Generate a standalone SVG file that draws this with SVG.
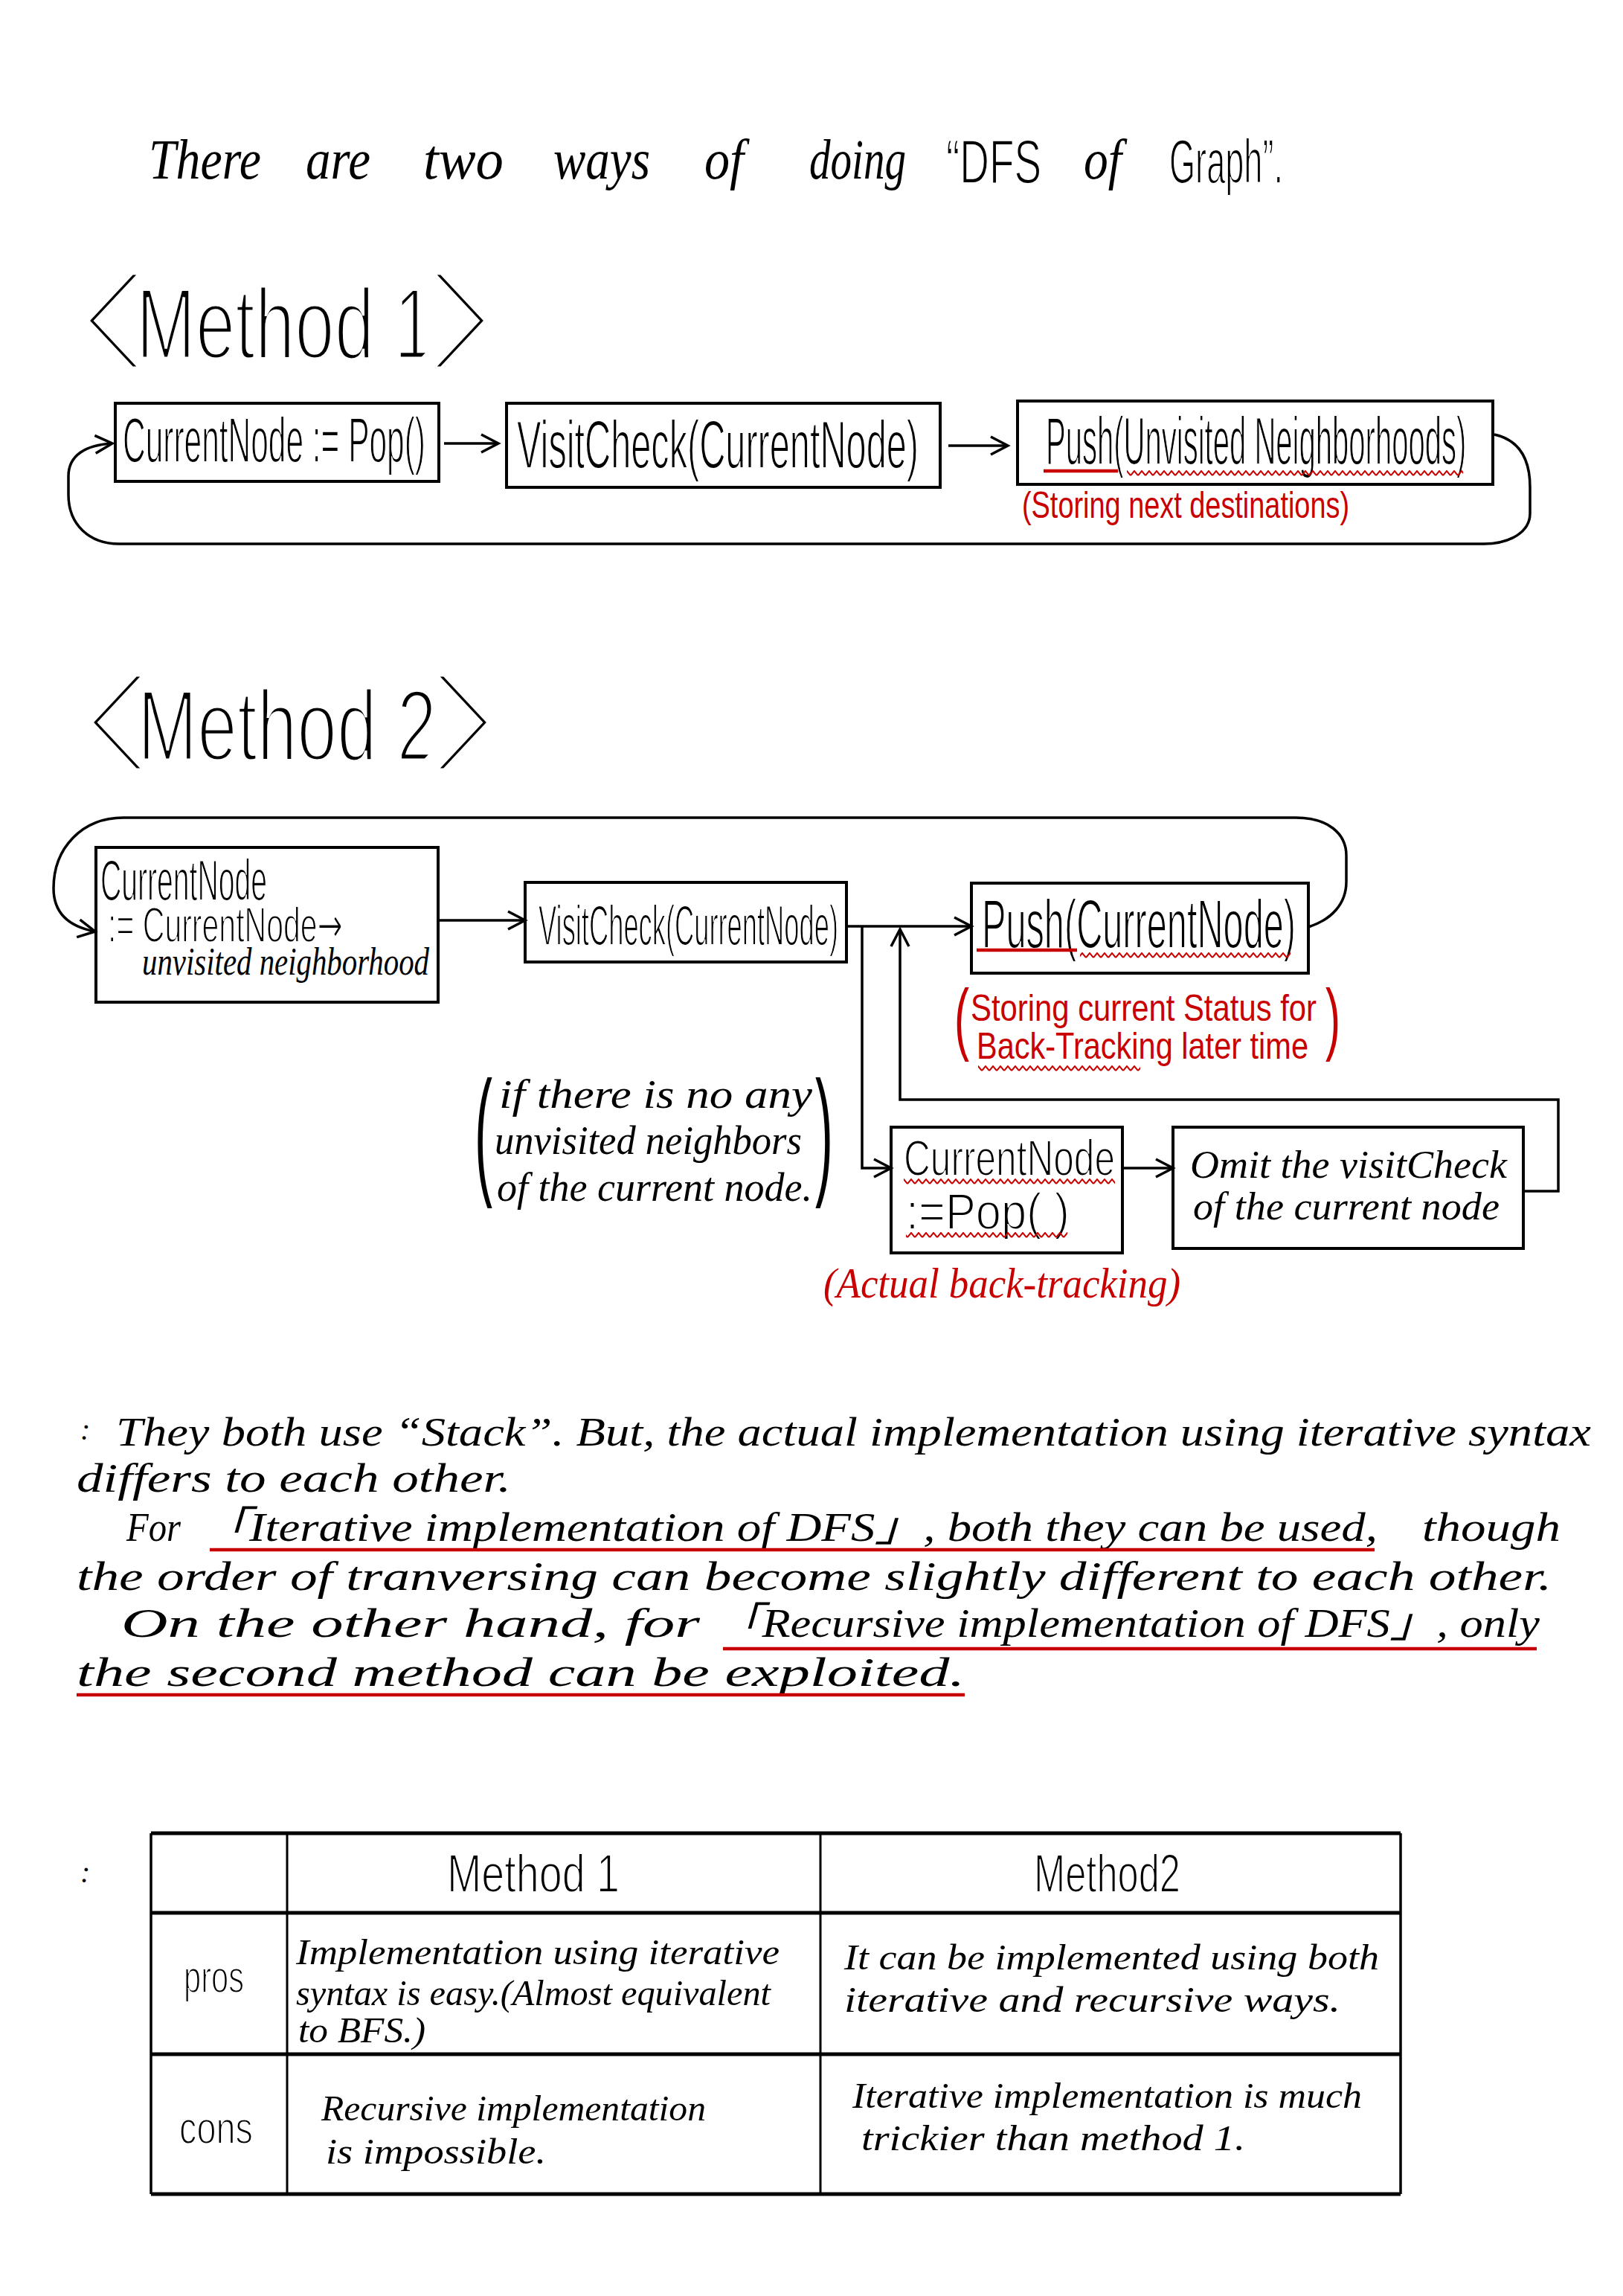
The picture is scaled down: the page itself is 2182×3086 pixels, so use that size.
<svg xmlns="http://www.w3.org/2000/svg" width="2182" height="3086" viewBox="0 0 2182 3086">
<style>
.bg{fill:#fff}
.box{fill:none;stroke:#000;stroke-width:4}
.conn{fill:none;stroke:#000;stroke-width:3.5}
.p{font-family:"Liberation Sans",Arial,sans-serif;fill:#000}
.c{font-family:"Liberation Serif","Times New Roman","Noto Sans CJK JP",serif;font-style:italic;fill:#000}
.br{font-family:"DejaVu Sans",sans-serif;fill:#000;stroke:#fff;stroke-width:10.5}
.thin{stroke:#fff;stroke-width:5}
.thins{stroke:#fff;stroke-width:2}
.red{fill:#c80000}
.ul{stroke:#c80000;stroke-width:4.5;fill:none}
.tl{stroke:#000;fill:none}
</style>
<defs>
<marker id="ah" markerUnits="userSpaceOnUse" markerWidth="30" markerHeight="28" refX="26" refY="14" orient="auto">
<path d="M3,2 L26,14 L3,26" fill="none" stroke="#000" stroke-width="3.5"/>
</marker>
<pattern id="wave" patternUnits="userSpaceOnUse" width="10" height="8">
<path d="M0,7 L5,1 L10,7" fill="none" stroke="#c80000" stroke-width="2"/>
</pattern>
</defs>
<rect class="bg" x="0" y="0" width="2182" height="3086"/>

<g id="title">
<text class="c" x="200" y="240" font-size="76" textLength="151" lengthAdjust="spacingAndGlyphs">There</text>
<text class="c" x="411" y="240" font-size="76" textLength="87" lengthAdjust="spacingAndGlyphs">are</text>
<text class="c" x="569" y="240" font-size="76" textLength="108" lengthAdjust="spacingAndGlyphs">two</text>
<text class="c" x="744" y="240" font-size="76" textLength="130" lengthAdjust="spacingAndGlyphs">ways</text>
<text class="c" x="947" y="240" font-size="76" textLength="53" lengthAdjust="spacingAndGlyphs">of</text>
<text class="c" x="1088" y="240" font-size="76" textLength="130" lengthAdjust="spacingAndGlyphs">doing</text>
<text class="p thins" x="1272" y="246" font-size="84" textLength="128" lengthAdjust="spacingAndGlyphs">“DFS</text>
<text class="c" x="1457" y="240" font-size="76" textLength="51" lengthAdjust="spacingAndGlyphs">of</text>
<text class="p thins" x="1572" y="246" font-size="84" textLength="153" lengthAdjust="spacingAndGlyphs">Graph”.</text>
</g>

<g id="heading-method1">
<text y="478"><tspan class="br" x="64" y="478" font-size="150" textLength="177" lengthAdjust="spacingAndGlyphs">⟨</tspan><tspan class="p thin" x="183" y="482" font-size="136" textLength="400" lengthAdjust="spacingAndGlyphs">Method 1</tspan><tspan class="br" x="530" y="478" font-size="150" textLength="177" lengthAdjust="spacingAndGlyphs">⟩</tspan></text>
</g>

<g id="m1-pop">
<rect class="box" x="155" y="542" width="435" height="105"/>
<text class="p thins" x="165" y="621" font-size="85" textLength="407" lengthAdjust="spacingAndGlyphs">CurrentNode := Pop()</text>
</g>
<g id="m1-visit">
<rect class="box" x="681" y="542" width="583" height="113"/>
<text class="p thins" x="695" y="629" font-size="90" textLength="540" lengthAdjust="spacingAndGlyphs">VisitCheck(CurrentNode)</text>
</g>
<g id="m1-push">
<rect class="box" x="1368" y="539" width="639" height="112"/>
<text class="p thins" transform="translate(1406,624) scale(0.445,1)" x="0" y="0" font-size="90">Push(Unvisited Neighborhoods)</text>
<line class="ul" x1="1403" y1="633" x2="1503" y2="633"/>
<rect x="1515" y="632" width="452" height="8" fill="url(#wave)"/>
<text class="p red" x="1374" y="696" font-size="50" textLength="440" lengthAdjust="spacingAndGlyphs">(Storing next destinations)</text>
</g>

<g id="connectors-m1">
<path class="conn" d="M597,596 L670,596" marker-end="url(#ah)"/>
<path class="conn" d="M1275,599 L1355,599" marker-end="url(#ah)"/>
<path class="conn" d="M2009,584 C2045,592 2057,620 2057,655 L2057,690 C2057,715 2030,731 1995,731 L160,731 C120,731 92,705 92,665 L92,640 C92,612 115,598 151,596" marker-end="url(#ah)"/>
</g>

<g id="heading-method2">
<text y="1018"><tspan class="br" x="69" y="1018" font-size="150" textLength="177" lengthAdjust="spacingAndGlyphs">⟨</tspan><tspan class="p thin" x="185" y="1022" font-size="136" textLength="402" lengthAdjust="spacingAndGlyphs">Method 2</tspan><tspan class="br" x="534" y="1018" font-size="150" textLength="177" lengthAdjust="spacingAndGlyphs">⟩</tspan></text>
</g>

<g id="m2-update">
<rect class="box" x="129" y="1139" width="460" height="208"/>
<text class="p thins" x="135" y="1210" font-size="78" textLength="224" lengthAdjust="spacingAndGlyphs">CurrentNode</text>
<text class="p thins" x="145" y="1266" font-size="66" textLength="316" lengthAdjust="spacingAndGlyphs">:= CurrentNode<tspan font-family="DejaVu Sans">→</tspan></text>
<text class="c" x="191" y="1310" font-size="52" textLength="386" lengthAdjust="spacingAndGlyphs">unvisited neighborhood</text>
</g>
<g id="m2-visit">
<rect class="box" x="706" y="1186" width="432" height="107"/>
<text class="p thins" x="724" y="1270" font-size="76" textLength="403" lengthAdjust="spacingAndGlyphs">VisitCheck(CurrentNode)</text>
</g>
<g id="m2-push">
<rect class="box" x="1306" y="1187" width="453" height="121"/>
<text class="p thins" x="1320" y="1274" font-size="92" textLength="422" lengthAdjust="spacingAndGlyphs">Push(CurrentNode)</text>
<line class="ul" x1="1313" y1="1277" x2="1448" y2="1277"/>
<rect x="1452" y="1280" width="283" height="8" fill="url(#wave)"/>
</g>
<g id="m2-push-note">
<text class="p red" x="1283" y="1405" font-size="107" textLength="20" lengthAdjust="spacingAndGlyphs">(</text>
<text class="p red" x="1305" y="1372" font-size="50" textLength="465" lengthAdjust="spacingAndGlyphs">Storing current Status for</text>
<text class="p red" x="1313" y="1423" font-size="50" textLength="446" lengthAdjust="spacingAndGlyphs">Back-Tracking later time</text>
<rect x="1315" y="1432" width="218" height="8" fill="url(#wave)"/>
<text class="p red" x="1782" y="1405" font-size="107" textLength="20" lengthAdjust="spacingAndGlyphs">)</text>
</g>
<g id="m2-condition">
<text class="p" x="638" y="1585" font-size="190" textLength="24" lengthAdjust="spacingAndGlyphs">(</text>
<text class="c" x="671" y="1489" font-size="54" textLength="421" lengthAdjust="spacingAndGlyphs">if there is no any</text>
<text class="c" x="665" y="1551" font-size="54" textLength="413" lengthAdjust="spacingAndGlyphs">unvisited neighbors</text>
<text class="c" x="668" y="1614" font-size="54" textLength="424" lengthAdjust="spacingAndGlyphs">of the current node.</text>
<text class="p" x="1096" y="1585" font-size="190" textLength="24" lengthAdjust="spacingAndGlyphs">)</text>
</g>
<g id="m2-pop">
<rect class="box" x="1198" y="1515" width="311" height="169"/>
<text class="p thins" x="1215" y="1580" font-size="68" textLength="284" lengthAdjust="spacingAndGlyphs">CurrentNode</text>
<rect x="1215" y="1584" width="284" height="8" fill="url(#wave)"/>
<text class="p thins" x="1218" y="1652" font-size="68" textLength="220" lengthAdjust="spacingAndGlyphs">:=Pop( )</text>
<rect x="1218" y="1656" width="217" height="8" fill="url(#wave)"/>
<text class="c red" x="1107" y="1744" font-size="56" textLength="480" lengthAdjust="spacingAndGlyphs">(Actual back-tracking)</text>
</g>
<g id="m2-omit">
<rect class="box" x="1577" y="1515" width="471" height="163"/>
<text class="c" x="1600" y="1583" font-size="52" textLength="426" lengthAdjust="spacingAndGlyphs">Omit the visitCheck</text>
<text class="c" x="1604" y="1639" font-size="52" textLength="412" lengthAdjust="spacingAndGlyphs">of the current node</text>
</g>

<g id="connectors-m2">
<path class="conn" d="M1759,1246 C1790,1236 1810,1215 1810,1185 L1810,1150 C1810,1120 1785,1099 1742,1099 L166,1099 C110,1099 72,1140 72,1194 C72,1225 90,1245 128,1252" marker-end="url(#ah)"/>
<path class="conn" d="M589,1237 L706,1237" marker-end="url(#ah)"/>
<path class="conn" d="M1139,1245 L1306,1245" marker-end="url(#ah)"/>
<path class="conn" d="M1159,1245 L1159,1570 L1198,1570" marker-end="url(#ah)"/>
<path class="conn" d="M2048,1601 L2095,1601 L2095,1478 L1210,1478 L1210,1249" marker-end="url(#ah)"/>
<path class="conn" d="M1509,1570 L1577,1570" marker-end="url(#ah)"/>
</g>

<g id="paragraph">
<text class="c" x="108" y="1935" font-size="40">:</text>
<text class="c" x="156" y="1943" font-size="55" textLength="1983" lengthAdjust="spacingAndGlyphs">They both use “Stack”. But, the actual implementation using iterative syntax</text>
<text class="c" x="103" y="2005" font-size="55" textLength="584" lengthAdjust="spacingAndGlyphs">differs to each other.</text>
<text class="c" x="170" y="2071" font-size="55" textLength="73" lengthAdjust="spacingAndGlyphs">For</text>
<text class="c" x="270" y="2071" font-size="55" textLength="1582" lengthAdjust="spacingAndGlyphs">「Iterative implementation of DFS」, both they can be used,</text>
<text class="c" x="1912" y="2071" font-size="55" textLength="186" lengthAdjust="spacingAndGlyphs">though</text>
<line class="ul" x1="282" y1="2083" x2="1848" y2="2083"/>
<text class="c" x="103" y="2137" font-size="55" textLength="1983" lengthAdjust="spacingAndGlyphs">the order of tranversing can become slightly different to each other.</text>
<text class="c" x="163" y="2200" font-size="55" textLength="778" lengthAdjust="spacingAndGlyphs">On the other hand, for</text>
<text class="c" x="962" y="2200" font-size="55" textLength="1108" lengthAdjust="spacingAndGlyphs">「Recursive implementation of DFS」, only</text>
<line class="ul" x1="972" y1="2216" x2="2066" y2="2216"/>
<text class="c" x="103" y="2266" font-size="55" textLength="1194" lengthAdjust="spacingAndGlyphs">the second method can be exploited.</text>
<line class="ul" x1="103" y1="2278" x2="1297" y2="2278"/>
</g>

<g id="table">
<text class="c" x="108" y="2530" font-size="40">:</text>
<line class="tl" x1="203" y1="2464" x2="1883" y2="2464" stroke-width="5"/>
<line class="tl" x1="203" y1="2571" x2="1883" y2="2571" stroke-width="5"/>
<line class="tl" x1="203" y1="2761" x2="1883" y2="2761" stroke-width="5"/>
<line class="tl" x1="203" y1="2949" x2="1883" y2="2949" stroke-width="5"/>
<line class="tl" x1="203" y1="2464" x2="203" y2="2949" stroke-width="3.5"/>
<line class="tl" x1="386" y1="2464" x2="386" y2="2949" stroke-width="3"/>
<line class="tl" x1="1103" y1="2464" x2="1103" y2="2949" stroke-width="3"/>
<line class="tl" x1="1883" y1="2464" x2="1883" y2="2949" stroke-width="3.5"/>
<text class="p thins" x="601" y="2543" font-size="72" textLength="232" lengthAdjust="spacingAndGlyphs">Method 1</text>
<text class="p thins" x="1390" y="2543" font-size="72" textLength="197" lengthAdjust="spacingAndGlyphs">Method2</text>
<text class="p thins" x="247" y="2678" font-size="62" textLength="81" lengthAdjust="spacingAndGlyphs">pros</text>
<text class="p thins" x="241" y="2881" font-size="62" textLength="99" lengthAdjust="spacingAndGlyphs">cons</text>
<text class="c" x="398" y="2640" font-size="48" textLength="650" lengthAdjust="spacingAndGlyphs">Implementation using iterative</text>
<text class="c" x="398" y="2695" font-size="48" textLength="638" lengthAdjust="spacingAndGlyphs">syntax is easy.(Almost equivalent</text>
<text class="c" x="401" y="2745" font-size="48" textLength="171" lengthAdjust="spacingAndGlyphs">to BFS.)</text>
<text class="c" x="1135" y="2647" font-size="48" textLength="719" lengthAdjust="spacingAndGlyphs">It can be implemented using both</text>
<text class="c" x="1135" y="2704" font-size="48" textLength="667" lengthAdjust="spacingAndGlyphs">iterative and recursive ways.</text>
<text class="c" x="432" y="2850" font-size="48" textLength="517" lengthAdjust="spacingAndGlyphs">Recursive implementation</text>
<text class="c" x="438" y="2908" font-size="48" textLength="296" lengthAdjust="spacingAndGlyphs">is impossible.</text>
<text class="c" x="1146" y="2833" font-size="48" textLength="685" lengthAdjust="spacingAndGlyphs">Iterative implementation is much</text>
<text class="c" x="1158" y="2890" font-size="48" textLength="516" lengthAdjust="spacingAndGlyphs">trickier than method 1.</text>
</g>
</svg>
